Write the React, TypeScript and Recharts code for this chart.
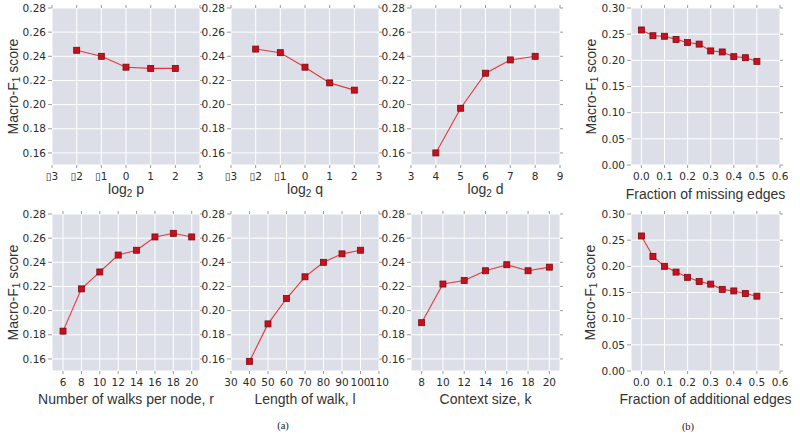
import React from 'react';
import { LineChart, Line, XAxis, YAxis, CartesianGrid, Label } from 'recharts';

// parameter sweeps (a)
const logTicks = [-3, -2, -1, 0, 1, 2, 3];
const pExps = [-2, -1, 0, 1, 2];
const pScores = [0.245, 0.24, 0.231, 0.23, 0.23];
const qExps = [-2, -1, 0, 1, 2];
const qScores = [0.246, 0.243, 0.231, 0.218, 0.212];
const dTicks = [3, 4, 5, 6, 7, 8, 9];
const dExps = [4, 5, 6, 7, 8];
const dScores = [0.16, 0.197, 0.226, 0.237, 0.24];
const walksTicks = [6, 8, 10, 12, 14, 16, 18, 20];
const walksPerNode = [6, 8, 10, 12, 14, 16, 18, 20];
const walksScores = [0.183, 0.218, 0.232, 0.246, 0.25, 0.261, 0.264, 0.261];
const lengthTicks = [30, 40, 50, 60, 70, 80, 90, 100, 110];
const walkLengths = [40, 50, 60, 70, 80, 90, 100];
const lengthScores = [0.158, 0.189, 0.21, 0.228, 0.24, 0.247, 0.25];
const contextTicks = [8, 10, 12, 14, 16, 18, 20];
const contextSizes = [8, 10, 12, 14, 16, 18, 20];
const contextScores = [0.19, 0.222, 0.225, 0.233, 0.238, 0.233, 0.236];
const f1TicksA = [0.16, 0.18, 0.2, 0.22, 0.24, 0.26, 0.28];

// perturbation (b)
const fractionTicks = [0, 0.1, 0.2, 0.3, 0.4, 0.5, 0.6];
const edgeFractions = [0, 0.05, 0.1, 0.15, 0.2, 0.25, 0.3, 0.35, 0.4, 0.45, 0.5];
const missingScores = [0.258, 0.247, 0.246, 0.24, 0.234, 0.231, 0.218, 0.216, 0.207, 0.205, 0.198];
const additionalScores = [0.258, 0.219, 0.2, 0.189, 0.179, 0.171, 0.166, 0.156, 0.153, 0.148, 0.143];
const f1TicksB = [0, 0.05, 0.1, 0.15, 0.2, 0.25, 0.3];

const TICK_FONT = { fontSize: 10.5, fill: '#2c2c2c', fontFamily: 'DejaVu Sans' };
const TITLE_FONT = 'Liberation Sans, Arial, sans-serif';
const TICK_LINE = { stroke: '#9a9a9a' };

type Part = [string, boolean];

const logFmt = (v: number) => (v < 0 ? '\u25AF' + Math.abs(v) : String(v));
const intFmt = (v: number) => String(v);
const oneDec = (v: number) => v.toFixed(1);
const twoDec = (v: number) => v.toFixed(2);
const blank = () => '';

const zip = (xs: number[], ys: number[]) => xs.map((x, i) => ({ x, y: ys[i] }));

const renderParts = (parts: Part[]) => {
  const out: React.ReactNode[] = [];
  parts.forEach(([t, sub], i) => {
    if (sub) {
      out.push(<tspan key={i} dy={3} fontSize={10}>{t}</tspan>);
    } else {
      const prevSub = i > 0 && parts[i - 1][1];
      out.push(<tspan key={i} dy={prevSub ? -3 : 0}>{t}</tspan>);
    }
  });
  return out;
};

const squareDot = (props: any) => (
  <rect
    key={`dot-${props.index}`}
    x={props.cx - 3}
    y={props.cy - 3}
    width={6}
    height={6}
    fill="#c8101e"
    stroke="#7a0a10"
    strokeWidth={0.8}
  />
);

interface Panel {
  id: string;
  x0: number;
  y0: number;
  w: number;
  h: number;
  padL: number;
  xDomain: [number, number];
  xTicks: number[];
  xFmt: (v: number) => string;
  yDomain: [number, number];
  yTicks: number[];
  rows: { x: number; y: number }[];
  xTitle: Part[];
  xTitleDy: number;
  yTitleX?: number;
}

const yTitle: Part[] = [['Macro-F', false], ['1', true], [' score', false]];

const panels: Panel[] = [
  { id: 'p', x0: 52, y0: 8, w: 148, h: 157, padL: 52, xDomain: [-3, 3], xTicks: logTicks, xFmt: logFmt,
    yDomain: [0.15, 0.28], yTicks: f1TicksA, rows: zip(pExps, pScores),
    xTitle: [['log', false], ['2', true], [' p', false]], xTitleDy: 29, yTitleX: 13 },
  { id: 'q', x0: 231, y0: 8, w: 148, h: 157, padL: 40, xDomain: [-3, 3], xTicks: logTicks, xFmt: logFmt,
    yDomain: [0.15, 0.28], yTicks: f1TicksA, rows: zip(qExps, qScores),
    xTitle: [['log', false], ['2', true], [' q', false]], xTitleDy: 29 },
  { id: 'd', x0: 411, y0: 8, w: 149, h: 157, padL: 40, xDomain: [3, 9], xTicks: dTicks, xFmt: intFmt,
    yDomain: [0.15, 0.28], yTicks: f1TicksA, rows: zip(dExps, dScores),
    xTitle: [['log', false], ['2', true], [' d', false]], xTitleDy: 29 },
  { id: 'miss', x0: 631, y0: 8, w: 149, h: 157, padL: 56, xDomain: [-0.045, 0.6], xTicks: fractionTicks, xFmt: oneDec,
    yDomain: [0, 0.3], yTicks: f1TicksB, rows: zip(edgeFractions, missingScores),
    xTitle: [['Fraction of missing edges', false]], xTitleDy: 34, yTitleX: 591 },
  { id: 'r', x0: 52, y0: 214, w: 148, h: 157, padL: 52, xDomain: [4.8, 20.9], xTicks: walksTicks, xFmt: intFmt,
    yDomain: [0.15, 0.28], yTicks: f1TicksA, rows: zip(walksPerNode, walksScores),
    xTitle: [['Number of walks per node, r', false]], xTitleDy: 33, yTitleX: 13 },
  { id: 'l', x0: 231, y0: 214, w: 148, h: 157, padL: 40, xDomain: [30, 110], xTicks: lengthTicks, xFmt: intFmt,
    yDomain: [0.15, 0.28], yTicks: f1TicksA, rows: zip(walkLengths, lengthScores),
    xTitle: [['Length of walk, l', false]], xTitleDy: 33 },
  { id: 'k', x0: 411, y0: 214, w: 149, h: 157, padL: 40, xDomain: [7, 21], xTicks: contextTicks, xFmt: intFmt,
    yDomain: [0.15, 0.28], yTicks: f1TicksA, rows: zip(contextSizes, contextScores),
    xTitle: [['Context size, k', false]], xTitleDy: 33 },
  { id: 'add', x0: 631, y0: 214, w: 149, h: 157, padL: 56, xDomain: [-0.045, 0.6], xTicks: fractionTicks, xFmt: oneDec,
    yDomain: [0, 0.3], yTicks: f1TicksB, rows: zip(edgeFractions, additionalScores),
    xTitle: [['Fraction of additional edges', false]], xTitleDy: 33, yTitleX: 590 },
];

const TOP = 8; // margin.top + top axis height
const RIGHT = 10;
const BOTTOM = 40;

const SubPlot = ({ p }: { p: Panel }) => {
  const left = p.x0 - p.padL;
  const top = p.y0 - TOP;
  const width = p.padL + p.w + RIGHT;
  const height = TOP + p.h + BOTTOM;
  return (
    <div style={{ position: 'absolute', left, top, width, height }}>
      <LineChart width={width} height={height} data={p.rows} margin={{ top: 4, right: 4, left: 0, bottom: 0 }}>
        <CartesianGrid fill="#dcdfe8" fillOpacity={1} stroke="#ffffff" strokeWidth={1} />
        <XAxis dataKey="x" type="number" domain={p.xDomain} ticks={p.xTicks} interval={0}
          tickFormatter={p.xFmt} tick={TICK_FONT} tickSize={3} tickMargin={5} tickLine={TICK_LINE}
          axisLine={false} height={BOTTOM} allowDataOverflow>
          <Label
            content={() => (
              <text x={p.w / 2 + p.padL} y={TOP + p.h + p.xTitleDy} textAnchor="middle"
                fontFamily={TITLE_FONT} fontSize={14} fill="#333">
                {renderParts(p.xTitle)}
              </text>
            )}
          />
        </XAxis>
        <XAxis xAxisId="top" dataKey="x" orientation="top" type="number" domain={p.xDomain} ticks={p.xTicks}
          interval={0} tickFormatter={blank} tickSize={3} tickLine={TICK_LINE} axisLine={false} height={4}
          allowDataOverflow />
        <YAxis type="number" domain={p.yDomain} ticks={p.yTicks} interval={0} tickFormatter={twoDec}
          tick={TICK_FONT} tickSize={4} tickMargin={2} tickLine={TICK_LINE} axisLine={false} width={p.padL}
          allowDataOverflow>
          {p.yTitleX !== undefined && (
            <Label
              content={() => {
                const cx = (p.yTitleX as number) - left;
                const cy = TOP + p.h / 2;
                return (
                  <text x={cx} y={cy} textAnchor="middle" dominantBaseline="central"
                    transform={`rotate(-90, ${cx}, ${cy})`}
                    fontFamily={TITLE_FONT} fontSize={14} fill="#333">
                    {renderParts(yTitle)}
                  </text>
                );
              }}
            />
          )}
        </YAxis>
        <YAxis yAxisId="right" orientation="right" type="number" domain={p.yDomain} ticks={p.yTicks} interval={0}
          tickFormatter={blank} tickSize={3} tickLine={TICK_LINE} axisLine={false} width={6} allowDataOverflow />
        <Line type="linear" dataKey="y" stroke="#e2393b" strokeWidth={1.1} dot={squareDot}
          isAnimationActive={false} />
      </LineChart>
    </div>
  );
};

export default function App() {
  return (
    <div style={{ position: 'absolute', left: 0, top: 0, width: 800, height: 434, background: '#fff', overflow: 'hidden' }}>
      <style>{'.recharts-surface { overflow: visible; } .recharts-wrapper { overflow: visible; }'}</style>
      {panels.map((p) => (
        <SubPlot key={p.id} p={p} />
      ))}
      <span style={{ position: 'absolute', left: 283, top: 425, transform: 'translate(-50%, -50%)',
        fontFamily: 'Liberation Serif, serif', fontSize: 10.5, color: '#222' }}>(a)</span>
      <span style={{ position: 'absolute', left: 688, top: 426, transform: 'translate(-50%, -50%)',
        fontFamily: 'Liberation Serif, serif', fontSize: 10.5, color: '#222' }}>(b)</span>
    </div>
  );
}
